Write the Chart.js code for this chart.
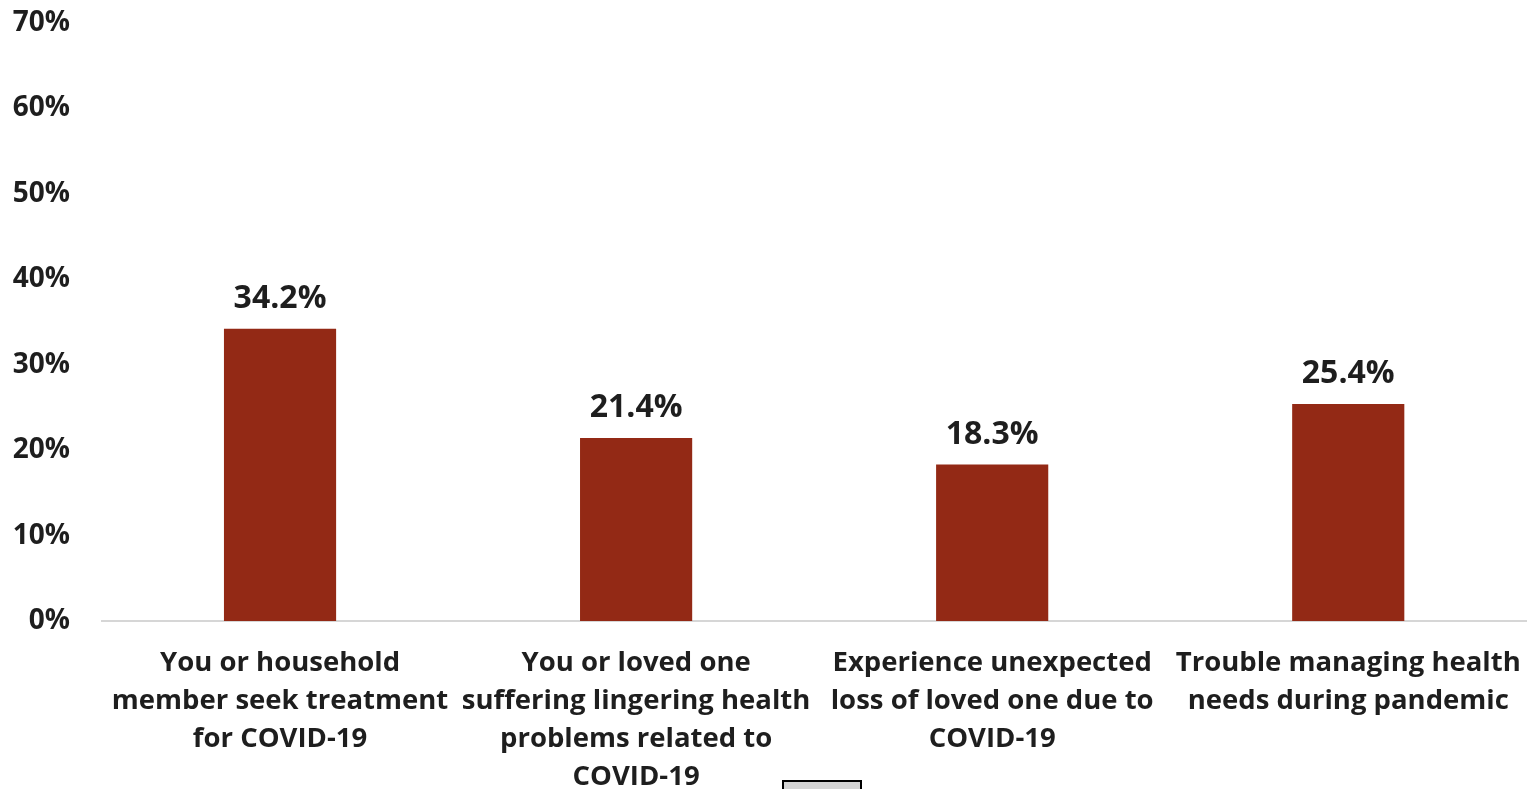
<!DOCTYPE html>
<html>
<head>
<meta charset="utf-8">
<script src="https://cdn.jsdelivr.net/npm/chart.js@4"></script>
<style>
  html, body { margin: 0; padding: 0; background: #fff; overflow: hidden; }
  #wrap { position: relative; width: 1527px; height: 789px; overflow: hidden; }
  #barChart { position: absolute; left: 0; top: -26px; }
  #stub { position: absolute; left: 782px; top: 780px; width: 76px; height: 12px;
          background: #d4d4d4; border: 2px solid #000; }
</style>
</head>
<body>
<div id="wrap">
  <canvas id="barChart" width="1544" height="815"></canvas>
  <div id="stub"></div>
</div>
<script>
// categories (multi-line labels) and values
var categories = [
    ['You or household', 'member seek treatment', 'for COVID-19'],
    ['You or loved one', 'suffering lingering health', 'problems related to', 'COVID-19'],
    ['Experience unexpected', 'loss of loved one due to', 'COVID-19'],
    ['Trouble managing health', 'needs during pandemic']
];
var values = [34.2, 21.4, 18.3, 25.4];
var yTicks = [0, 10, 20, 30, 40, 50, 60, 70];

var barColor = 'rgb(147, 41, 21)';
var textColor = '#1e1e1e';
var fontFamily = '"Open Sans", sans-serif';

// draws the value above each bar
var valueLabels = {
    id: 'valueLabels',
    afterDatasetsDraw: function(chart) {
        var ctx = chart.ctx;
        var meta = chart.getDatasetMeta(0);
        ctx.save();
        ctx.font = 'bold 32px ' + fontFamily;
        ctx.fillStyle = textColor;
        ctx.textAlign = 'center';
        ctx.textBaseline = 'alphabetic';
        meta.data.forEach(function(bar, i) {
            ctx.fillText(values[i].toFixed(1) + '%', bar.x, bar.y - 21);
        });
        ctx.restore();
    }
};

var ctx = document.getElementById('barChart').getContext('2d');
var chart = new Chart(ctx, {
    type: 'bar',
    data: {
        labels: categories,
        datasets: [{
            data: values,
            backgroundColor: barColor,
            borderWidth: 0,
            barPercentage: 0.63,
            categoryPercentage: 0.5
        }]
    },
    options: {
        responsive: false,
        animation: false,
        layout: { padding: { left: 0, right: 2, top: 0, bottom: 0 } },
        plugins: {
            legend: { display: false },
            tooltip: { enabled: false }
        },
        scales: {
            x: {
                afterFit: function(axis) { axis.height = 168; },
                grid: { display: false, drawTicks: false },
                border: { display: true, color: '#d6d6d6', width: 2 },
                ticks: {
                    color: textColor,
                    font: { family: fontFamily, size: 27.5, weight: 'bold', lineHeight: 1.38 },
                    padding: 23,
                    maxRotation: 0,
                    autoSkip: false
                }
            },
            y: {
                min: 0,
                max: 70,
                afterFit: function(axis) { axis.width = 102; },
                afterBuildTicks: function(axis) {
                    axis.ticks = yTicks.map(function(v) { return { value: v }; });
                },
                grid: { display: false, drawTicks: false },
                border: { display: false },
                ticks: {
                    color: textColor,
                    font: { family: fontFamily, size: 28, weight: 'bold' },
                    padding: 32,
                    callback: function(v) { return v + '%'; }
                }
            }
        }
    },
    plugins: [valueLabels]
});
</script>
</body>
</html>
